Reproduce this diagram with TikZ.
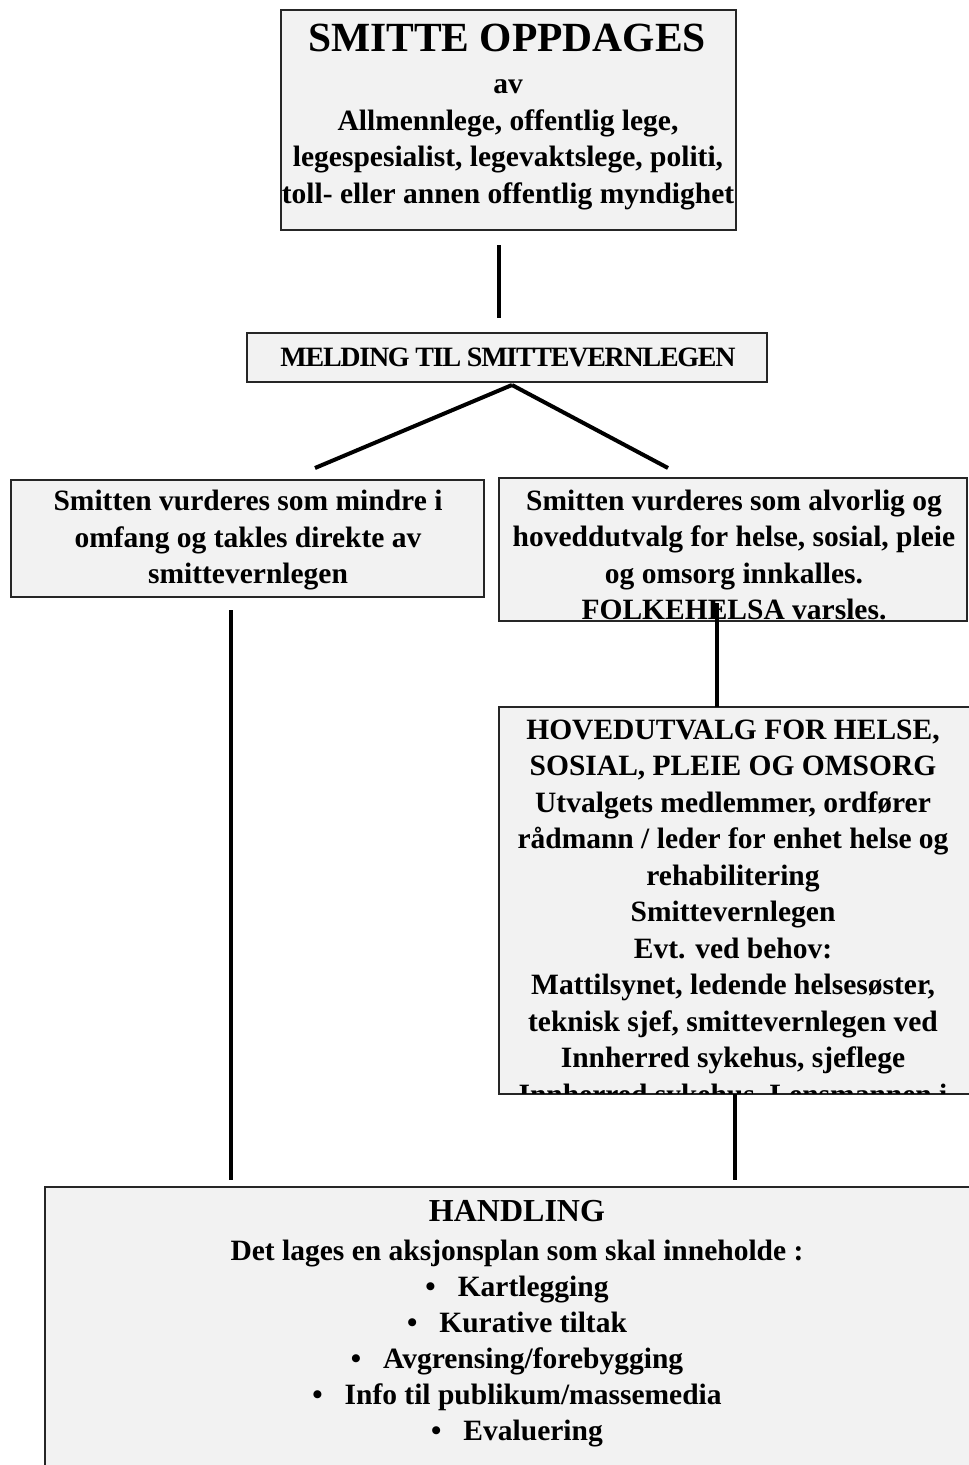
\documentclass[tikz,border=0pt]{standalone}
\usepackage{fontspec}
\setmainfont{Liberation Serif}
\definecolor{boxgray}{HTML}{F2F2F2}
\tikzset{
  box/.style={draw=black!85, line width=1.6pt, fill=boxgray, inner sep=0pt, outer sep=0pt, anchor=north west},
  txt/.style={align=center, inner sep=0pt, font=\fontsize{29.5}{36.5}\selectfont\bfseries},
  conn/.style={line width=4pt}
}
\newcommand{\punkt}{\textbullet\hspace{22pt}}
\begin{document}
\begin{tikzpicture}[x=1pt,y=-1pt]
      \useasboundingbox (0,0) rectangle (969,1465);
      % boxes
      \node[box, minimum width=455pt, minimum height=220pt] (oppdag) at (281,10) {};
      \node[box, minimum width=520pt, minimum height=49pt] (melding) at (247,333) {};
      \node[box, minimum width=473pt, minimum height=117pt] (mindre) at (11,480) {};
      \node[box, minimum width=468pt, minimum height=143pt] (alvorlig) at (499,478) {};
      \node[box, minimum width=490pt, minimum height=387pt] (hoved) at (499,707) {};
      \node[box, minimum width=950pt, minimum height=300pt] (handling) at (45,1187) {};
      % texts
      \node[txt, font=\fontsize{41.5}{44}\selectfont\bfseries] (oppdag-tittel) at (507,38) {SMITTE OPPDAGES};
      \node[txt] (oppdag-tekst) at (508,145) {av\\Allmennlege, offentlig lege,\\legespesialist, legevaktslege, politi,\\toll- eller annen offentlig myndighet};
      \node[txt, font=\fontsize{28}{30}\selectfont\bfseries\addfontfeature{LetterSpace=-4.5}] (melding-tekst) at (508,357) {MELDING TIL SMITTEVERNLEGEN};
      \node[txt] (mindre-tekst) at (248,540.5) {Smitten vurderes som mindre i\\omfang og takles direkte av\\smittevernlegen};
      \node[txt] (alvorlig-tekst) at (734,555) {Smitten vurderes som alvorlig og\\hoveddutvalg for helse, sosial, pleie\\og omsorg innkalles.\\FOLKEHELSA varsles.};
      \begin{scope}
        \clip ([xshift=0.8pt,yshift=-0.8pt]hoved.north west) rectangle ([xshift=-0.8pt,yshift=0.8pt]hoved.south east);
        \node[txt] (hoved-tekst) at (733,915) {HOVEDUTVALG FOR HELSE,\\SOSIAL, PLEIE OG OMSORG\\Utvalgets medlemmer, ordfører\\rådmann / leder for enhet helse og\\rehabilitering\\Smittevernlegen\\Evt. ved behov:\\Mattilsynet, ledende helsesøster,\\teknisk sjef, smittevernlegen ved\\Innherred sykehus, sjeflege\\Innherred sykehus, Lensmannen i};
      \end{scope}
      \node[txt, font=\fontsize{32}{36}\selectfont\bfseries] (handling-tittel) at (517,1211) {HANDLING};
      \node[txt, font=\fontsize{29.5}{36}\selectfont\bfseries] (handling-tekst) at (517,1344) {Det lages en aksjonsplan som skal inneholde :\\\punkt Kartlegging\\\punkt Kurative tiltak\\\punkt Avgrensing/forebygging\\\punkt Info til publikum/massemedia\\\punkt Evaluering};
      % connectors
      \begin{scope}[conn]
        \draw ([xshift=-9.5pt,yshift=-15pt]oppdag.south) to ([xshift=-8pt,yshift=15pt]melding.north);
        \coordinate (gaffel) at ([xshift=5pt,yshift=-3pt]melding.south);
        \draw ([xshift=67.5pt,yshift=12pt]mindre.north) to (gaffel);
        \draw (gaffel) to ([xshift=-65pt,yshift=10pt]alvorlig.north);
        \draw ([xshift=-16.5pt,yshift=-13pt]mindre.south) to ([xshift=-289pt,yshift=7pt]handling.north);
        \draw ([xshift=-16pt,yshift=18pt]alvorlig.south) to ([xshift=-27pt]hoved.north);
        \draw ([xshift=-9pt]hoved.south) to ([xshift=215pt,yshift=7pt]handling.north);
      \end{scope}
    \end{tikzpicture}
\end{document}
